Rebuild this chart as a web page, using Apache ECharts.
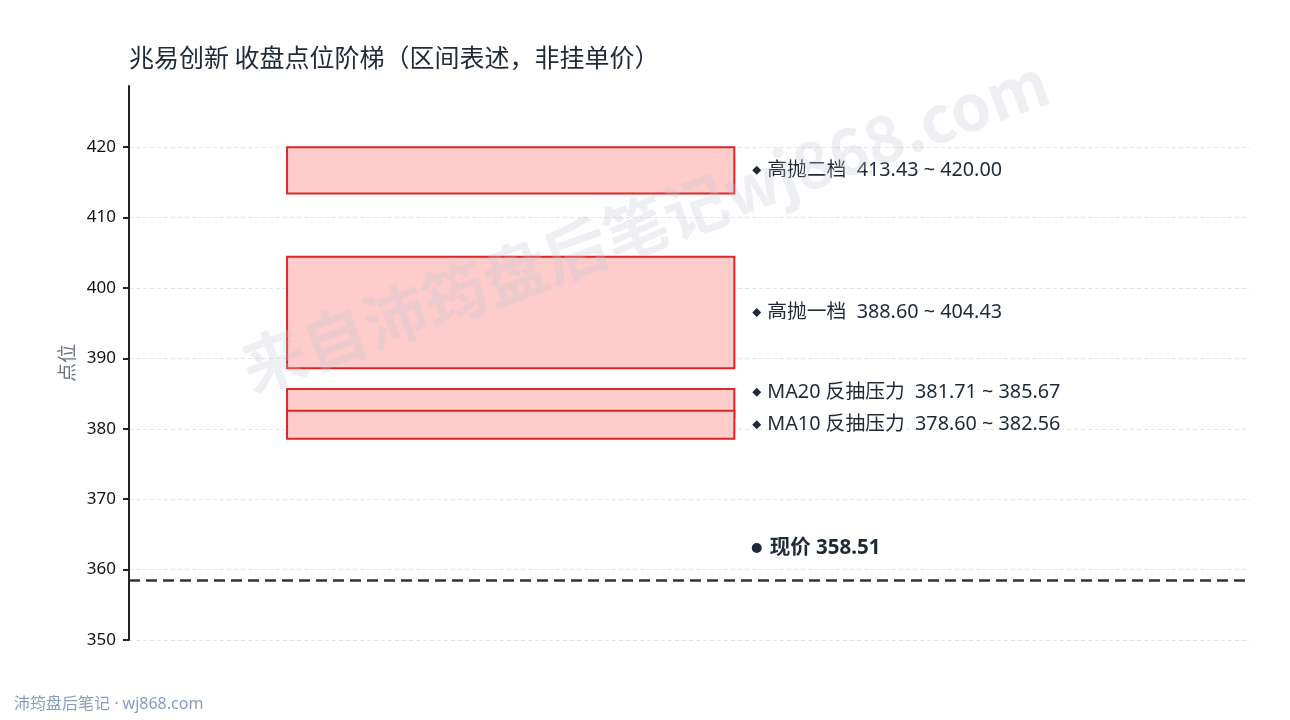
<!DOCTYPE html>
<html>
<head>
<meta charset="utf-8">
<script src="https://cdn.jsdelivr.net/npm/echarts@6/dist/echarts.min.js"></script>
<style>
  html, body { margin: 0; padding: 0; background: #fff; }
  #chart { width: 1290px; height: 720px; }
</style>
</head>
<body>
<div id="chart"></div>
<script>
var zoneNames = ['高抛二档', '高抛一档', 'MA20 反抽压力', 'MA10 反抽压力'];
var zoneLow = [413.43, 388.60, 381.71, 378.60];
var zoneHigh = [420.00, 404.43, 385.67, 382.56];
var lastPrice = 358.51;
var yTicks = [350, 360, 370, 380, 390, 400, 410, 420];

var FONT = '"Noto Sans", "Noto Sans CJK SC", sans-serif';
var BOX_X0 = 0.141, BOX_X1 = 0.540, LABEL_X = 0.56;

// label positions: zone midpoint, pushed up if too close to the one below
function labelValues() {
  var idx = zoneNames.map(function (n, i) { return i; });
  idx.sort(function (a, b) { return (zoneLow[a] + zoneHigh[a]) - (zoneLow[b] + zoneHigh[b]); });
  var out = [], prev = -Infinity;
  idx.forEach(function (i) {
    var v = Math.max((zoneLow[i] + zoneHigh[i]) / 2, prev + 4.6);
    out[i] = v;
    prev = v;
  });
  return out;
}
var labY = labelValues();

var rectData = zoneNames.map(function (n, i) { return [zoneLow[i], zoneHigh[i]]; });
var labelData = zoneNames.map(function (n, i) {
  return { value: [LABEL_X, labY[i]], name: n + '  ' + zoneLow[i].toFixed(2) + ' ~ ' + zoneHigh[i].toFixed(2) };
});

var myChart = echarts.init(document.getElementById('chart'));
var option = {
  animation: false,
  backgroundColor: '#fff',
  title: {
    text: '兆易创新 收盘点位阶梯（区间表述，非挂单价）',
    left: 124, top: 40,
    textStyle: { fontFamily: '"Noto Sans CJK SC", sans-serif', fontSize: 25, fontWeight: 'normal', color: '#1f2937' }
  },
  graphic: [{
    type: 'text',
    x: 645, y: 225,
    rotation: 20 * Math.PI / 180,
    style: {
      text: '来自沛筠盘后笔记wj868.com',
      font: 'bold 64px "Noto Sans CJK SC"',
      fill: 'rgba(190, 196, 212, 0.28)',
      align: 'center', verticalAlign: 'middle'
    },
    z: 100
  }, {
    type: 'text',
    left: 14, top: 696,
    style: { text: '沛筠盘后笔记 · wj868.com', font: '16px "Noto Sans", "Noto Sans CJK SC"', fill: '#8a9cc0' }
  }],
  grid: { left: 129, right: 40, top: 86, bottom: 80 },
  xAxis: {
    type: 'value', min: 0, max: 1,
    show: false
  },
  yAxis: {
    type: 'value', min: 350, max: 428.7,
    name: '点位', nameLocation: 'middle', nameGap: 52, nameRotate: 90,
    nameTextStyle: { fontFamily: '"Noto Sans CJK SC"', fontSize: 19, color: '#6b7280' },
    axisLine: { show: true, lineStyle: { color: '#222', width: 2 } },
    axisTick: { show: true, length: 6, lineStyle: { color: '#222', width: 2 }, customValues: yTicks },
    axisLabel: { customValues: yTicks, color: '#111', fontSize: 17, fontFamily: '"Noto Sans", sans-serif', margin: 13 },
    splitLine: { show: true, lineStyle: { color: '#e3e3e3', type: [4, 3], width: 1 } }
  },
  series: [{
    type: 'custom',
    data: rectData,
    renderItem: function (params, api) {
      var p0 = api.coord([BOX_X0, api.value(1)]);
      var p1 = api.coord([BOX_X1, api.value(0)]);
      return {
        type: 'rect',
        shape: { x: p0[0], y: p0[1], width: p1[0] - p0[0], height: p1[1] - p0[1] },
        style: { fill: '#ffcccc', stroke: '#dc2626', lineWidth: 2 }
      };
    },
    z: 3
  }, {
    type: 'scatter',
    data: labelData,
    symbol: 'diamond', symbolSize: 9,
    itemStyle: { color: '#1f2937', opacity: 1 },
    label: {
      show: true, position: 'right', distance: 6,
      formatter: function (p) { return p.name; },
      fontFamily: FONT, fontSize: 19.8, color: '#1f2937'
    },
    z: 4
  }, {
    type: 'scatter',
    data: [{ value: [LABEL_X, lastPrice + 4.55], name: '现价 ' + lastPrice.toFixed(2) }],
    symbol: 'circle', symbolSize: 10,
    itemStyle: { color: '#1f2937', opacity: 1 },
    label: {
      show: true, position: 'right', distance: 8,
      formatter: function (p) { return p.name; },
      fontFamily: FONT, fontSize: 20.5, fontWeight: 'bold', color: '#1f2937'
    },
    markLine: {
      silent: true, symbol: ['none', 'none'],
      label: { show: false },
      lineStyle: { color: '#2d3340', width: 2.5, type: [11, 6] },
      data: [{ yAxis: lastPrice }]
    },
    z: 4
  }]
};
myChart.setOption(option);
</script>
</body>
</html>
